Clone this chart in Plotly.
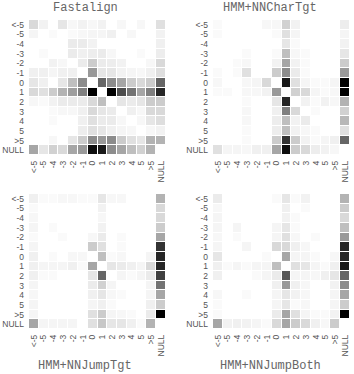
import plotly.graph_objects as go

cats = ["<-5", "-5", "-4", "-3", "-2", "-1", "0", "1", "2", "3", "4", "5", ">5", "NULL"]
titles = ["Fastalign", "HMM+NNCharTgt", "HMM+NNJumpTgt", "HMM+NNJumpBoth"]

fastalign = [
    [0.15, 0.05, 0, 0.1, 0.03, 0.05, 0.03, 0.05, 0, 0.03, 0, 0.03, 0, 0.12],
    [0.04, 0, 0.02, 0, 0.02, 0.03, 0.04, 0.04, 0.06, 0, 0.03, 0, 0, 0.05],
    [0, 0, 0, 0, 0.08, 0.08, 0.05, 0, 0, 0, 0, 0, 0, 0.06],
    [0, 0.02, 0, 0, 0.08, 0.06, 0.07, 0.08, 0.03, 0, 0, 0.02, 0, 0.07],
    [0, 0, 0.05, 0.03, 0, 0.08, 0.2, 0.08, 0.07, 0.05, 0, 0, 0.03, 0.15],
    [0.06, 0.06, 0.04, 0.06, 0.06, 0, 0.4, 0.1, 0.1, 0.05, 0.04, 0.03, 0.06, 0.13],
    [0.1, 0.06, 0, 0.1, 0.25, 0.45, 0, 0.6, 0.45, 0.35, 0.2, 0.15, 0.2, 0.6],
    [0.15, 0.12, 0.2, 0.3, 0.38, 0.5, 1.0, 0, 1.0, 0.7, 0.55, 0.35, 0.5, 0.85],
    [0.03, 0.02, 0.05, 0.08, 0.08, 0.08, 0.15, 0.25, 0, 0.1, 0.08, 0.1, 0.2, 0.2],
    [0, 0, 0.02, 0.03, 0.03, 0.06, 0.15, 0.1, 0.08, 0, 0.06, 0.03, 0.15, 0.15],
    [0, 0, 0.02, 0, 0, 0.06, 0.12, 0.08, 0.08, 0.03, 0, 0.03, 0.1, 0.13],
    [0, 0, 0, 0, 0, 0.07, 0.12, 0.1, 0.06, 0.04, 0.03, 0, 0.03, 0.05],
    [0, 0, 0.03, 0, 0.1, 0.2, 0.45, 0.4, 0.45, 0.2, 0.12, 0.1, 0.3, 0.3],
    [0.35, 0.1, 0.18, 0.15, 0.35, 0.4, 0.95, 0.9, 0.45, 0.35, 0.25, 0.18, 0.3, 0],
]

char_tgt = [
    [0.02, 0, 0, 0, 0, 0.03, 0.03, 0.18, 0.05, 0, 0, 0, 0, 0.07],
    [0.02, 0, 0, 0, 0, 0, 0.02, 0.12, 0.04, 0, 0, 0, 0, 0.04],
    [0, 0, 0, 0, 0, 0, 0, 0.1, 0.02, 0, 0, 0, 0, 0.05],
    [0, 0, 0, 0.02, 0, 0, 0.02, 0.25, 0.03, 0.02, 0, 0, 0, 0.1],
    [0, 0, 0.02, 0.03, 0, 0, 0.05, 0.35, 0.05, 0.02, 0, 0, 0, 0.2],
    [0.02, 0, 0.02, 0.12, 0, 0, 0.2, 0.45, 0.08, 0.02, 0, 0, 0, 0.4],
    [0.03, 0, 0, 0.03, 0.04, 0.15, 0, 0.9, 0.12, 0.04, 0.02, 0.02, 0.04, 1.0],
    [0.02, 0.02, 0, 0.03, 0.03, 0.05, 0.4, 0, 0.18, 0.15, 0.04, 0.02, 0.03, 1.0],
    [0, 0, 0, 0.02, 0, 0, 0.1, 0.85, 0, 0.05, 0.02, 0.05, 0.03, 0.3],
    [0, 0, 0, 0.03, 0, 0, 0.06, 0.5, 0.15, 0, 0.02, 0, 0, 0.18],
    [0, 0, 0, 0.03, 0, 0, 0.07, 0.25, 0.05, 0.08, 0, 0, 0, 0.28],
    [0, 0, 0, 0.02, 0, 0, 0.07, 0.25, 0.05, 0.03, 0.02, 0, 0, 0.12],
    [0, 0, 0, 0.02, 0, 0, 0.2, 0.8, 0.2, 0.05, 0.02, 0.04, 0.06, 0.6],
    [0.12, 0.04, 0.04, 0.03, 0.06, 0.06, 0.35, 0.95, 0.2, 0.15, 0.07, 0.05, 0.03, 0],
]

jump_tgt = [
    [0.06, 0.02, 0.02, 0.03, 0.03, 0.02, 0.02, 0.1, 0.03, 0.03, 0, 0, 0, 0.3],
    [0.02, 0, 0, 0, 0, 0, 0, 0.05, 0, 0, 0, 0, 0, 0.15],
    [0.03, 0, 0, 0, 0, 0, 0, 0.03, 0, 0, 0, 0, 0, 0.15],
    [0.04, 0, 0.02, 0, 0, 0, 0, 0.05, 0, 0, 0, 0, 0, 0.2],
    [0.02, 0, 0, 0.02, 0, 0, 0.03, 0.08, 0, 0.02, 0, 0, 0, 0.35],
    [0.04, 0, 0, 0, 0, 0, 0.2, 0.12, 0, 0.02, 0, 0, 0, 0.8],
    [0.06, 0, 0.02, 0, 0.03, 0.03, 0, 0.25, 0.02, 0.03, 0, 0, 0.04, 0.85],
    [0.06, 0.04, 0.04, 0.04, 0.06, 0.02, 0.35, 0, 0.1, 0.08, 0.06, 0.04, 0.15, 0.85],
    [0.06, 0.02, 0.02, 0, 0, 0, 0.1, 0.6, 0, 0.04, 0.02, 0.04, 0.08, 0.75],
    [0.04, 0, 0, 0, 0, 0, 0.08, 0.18, 0.04, 0, 0, 0, 0.04, 0.55],
    [0.03, 0, 0, 0, 0, 0, 0.06, 0.1, 0.03, 0.02, 0, 0, 0.04, 0.35],
    [0.04, 0, 0, 0, 0, 0, 0.04, 0.06, 0.02, 0, 0, 0, 0.06, 0.2],
    [0.04, 0, 0, 0, 0, 0, 0.12, 0.2, 0.04, 0.03, 0.02, 0, 0.08, 1.0],
    [0.35, 0.04, 0.04, 0.04, 0.04, 0, 0.12, 0.22, 0.1, 0.1, 0.06, 0.02, 0.3, 0],
]

jump_both = [
    [0.08, 0, 0, 0, 0, 0, 0.02, 0.1, 0.02, 0.05, 0, 0, 0, 0.3],
    [0.03, 0, 0, 0, 0, 0, 0, 0.06, 0, 0.02, 0, 0, 0, 0.2],
    [0.04, 0, 0, 0, 0, 0, 0, 0.05, 0.02, 0, 0, 0, 0, 0.15],
    [0.04, 0, 0.04, 0, 0, 0, 0.04, 0.1, 0.02, 0, 0, 0, 0, 0.25],
    [0.03, 0, 0.02, 0, 0, 0, 0.04, 0.12, 0.03, 0, 0.02, 0, 0, 0.4],
    [0.04, 0, 0, 0.04, 0, 0, 0.15, 0.15, 0.06, 0.03, 0, 0, 0, 0.85],
    [0.1, 0, 0, 0, 0, 0.02, 0, 0.35, 0.04, 0.04, 0.02, 0, 0.03, 0.85],
    [0.06, 0.02, 0.04, 0.02, 0.04, 0.04, 0.25, 0, 0.12, 0.1, 0.04, 0.02, 0.06, 0.9],
    [0.06, 0, 0, 0, 0.02, 0.04, 0.08, 0.65, 0.04, 0.04, 0.03, 0.06, 0.1, 0.6],
    [0, 0, 0, 0, 0, 0, 0.06, 0.4, 0.06, 0.03, 0, 0, 0.05, 0.45],
    [0.03, 0, 0, 0.02, 0, 0, 0.04, 0.1, 0.05, 0.03, 0, 0, 0.04, 0.35],
    [0.02, 0, 0, 0, 0, 0, 0.04, 0.1, 0.02, 0.03, 0, 0, 0.04, 0.2],
    [0.02, 0, 0, 0, 0, 0, 0.08, 0.35, 0.12, 0.04, 0.02, 0.02, 0.05, 1.0],
    [0.35, 0.05, 0.06, 0.05, 0.04, 0.02, 0.15, 0.35, 0.2, 0.15, 0.06, 0.03, 0.2, 0],
]

W, H = 354, 374
panels = [fastalign, char_tgt, jump_tgt, jump_both]
# pixel boxes (left, right, top, bottom)
boxes = [(29, 166, 20, 155), (213, 350, 20, 155), (29, 166, 194, 329), (213, 350, 194, 329)]
title_pos = [(85, 8), (270, 8), (85, 366), (270, 366)]

fig = go.Figure()
layout = {}
tickfont = dict(family="Liberation Sans", size=8.5, color="#555")
for i, (z, box) in enumerate(zip(panels, boxes)):
    n = "" if i == 0 else str(i + 1)
    l, r, t, b = box
    fig.add_trace(go.Heatmap(
        z=z, x=cats, y=cats, xaxis="x" + n, yaxis="y" + n,
        colorscale=[[0, "#ffffff"], [1, "#000000"]], zmin=0, zmax=1,
        xgap=1, ygap=1, showscale=False, hoverinfo="skip",
    ))
    layout["xaxis" + n] = dict(
        domain=[l / W, r / W], anchor="y" + n, type="category",
        categoryorder="array", categoryarray=cats,
        tickmode="array", tickvals=cats, ticktext=cats,
        tickangle=-90, showgrid=False, zeroline=False, showline=False,
        ticks="", tickfont=tickfont, fixedrange=True, ticklabelstandoff=3,
    )
    layout["yaxis" + n] = dict(
        domain=[1 - b / H, 1 - t / H], anchor="x" + n, type="category",
        categoryorder="array", categoryarray=cats,
        tickmode="array", tickvals=cats, ticktext=cats,
        autorange="reversed", showgrid=False, zeroline=False, showline=False,
        ticks="", tickfont=tickfont, fixedrange=True, ticklabelstandoff=4,
    )

annotations = []
for (tx, ty), txt in zip(title_pos, titles):
    annotations.append(dict(
        x=tx / W, y=1 - ty / H, xref="paper", yref="paper", text=txt,
        showarrow=False, xanchor="center", yanchor="middle",
        font=dict(family="Liberation Mono", size=12, color="#666"),
    ))

fig.update_layout(
    width=W, height=H, margin=dict(l=0, r=0, t=0, b=0),
    paper_bgcolor="white", plot_bgcolor="white",
    annotations=annotations, **layout,
)
fig.write_html("out.html")
